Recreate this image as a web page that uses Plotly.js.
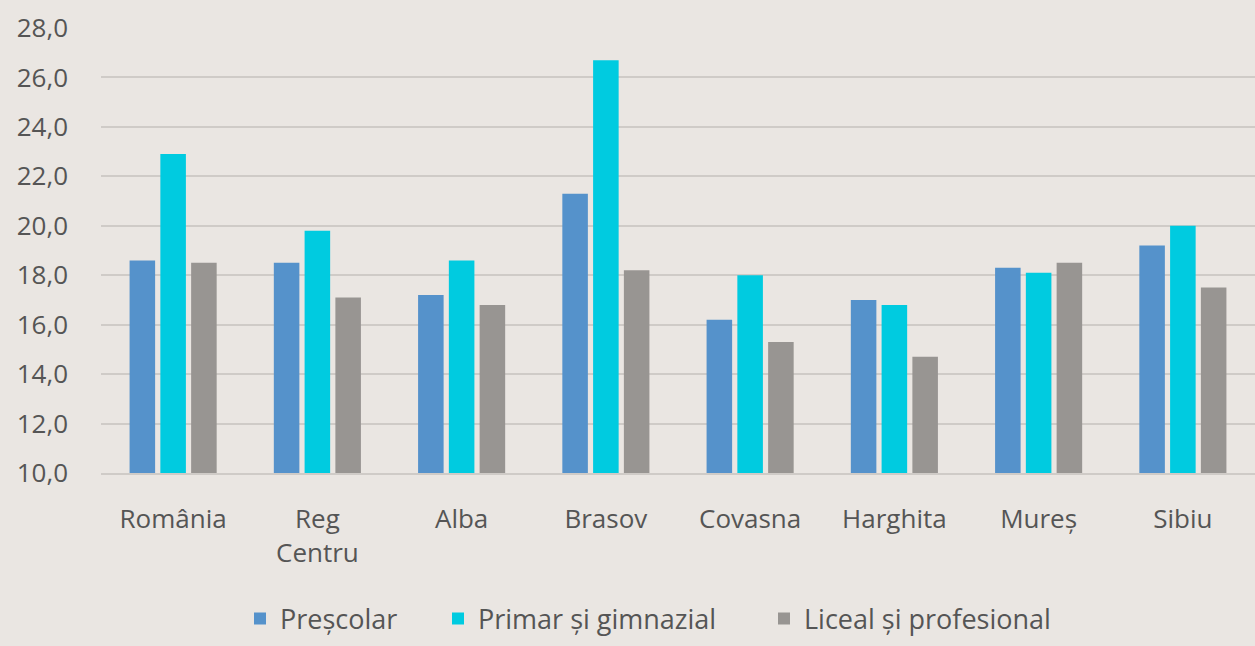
<!DOCTYPE html>
<html><head><meta charset="utf-8">
<script src="https://cdn.plot.ly/plotly-3.0.1.min.js"></script>
<style>html,body{margin:0;padding:0;background:#EAE6E2;}#chart{width:1255px;height:646px;}</style>
</head><body><div id="chart"></div>
<script>
const categories = ["România", "Reg<br>Centru", "Alba", "Brasov", "Covasna", "Harghita", "Mureș", "Sibiu"];
const prescolar = [18.6, 18.5, 17.2, 21.3, 16.2, 17.0, 18.3, 19.2];
const primarGimnazial = [22.9, 19.8, 18.6, 26.7, 18.0, 16.8, 18.1, 20.0];
const licealProfesional = [18.5, 17.1, 16.8, 18.2, 15.3, 14.7, 18.5, 17.5];
const seriesNames = ["Preșcolar", "Primar și gimnazial", "Liceal și profesional"];
const yTicks = [10, 12, 14, 16, 18, 20, 22, 24, 26, 28];

const colors = ["#5592CB", "#00CBE0", "#989592"];
const legendIds = ["legend", "legend2", "legend3"];
const data = [prescolar, primarGimnazial, licealProfesional].map((v, i) => ({
  type: "bar", x: categories, y: v, name: seriesNames[i],
  marker: {color: colors[i], line: {width: 0}},
  legend: legendIds[i],
  hoverinfo: "none"
}));

const font = "Open Sans, DejaVu Sans, sans-serif";
const legendX = [240, 438, 764];
const layout = {
  width: 1255, height: 646,
  paper_bgcolor: "#EAE6E2", plot_bgcolor: "#EAE6E2",
  margin: {l: 101, r: 0, t: 28, b: 173},
  barmode: "group", bargap: 0.36, bargroupgap: 0.17,
  font: {family: font, size: 26, color: "#555555"},
  xaxis: {
    tickfont: {family: font, size: 26, color: "#555555"},
    showgrid: false, showline: true, linecolor: "#CFCBC7", linewidth: 2,
    ticks: "", ticklabelstandoff: 22, fixedrange: true, automargin: false
  },
  yaxis: {
    range: [10, 28], tickvals: yTicks, tickformat: ".1f",
    tickfont: {family: font, size: 26, color: "#555555"},
    showgrid: true, gridcolor: "#CFCBC7", gridwidth: 2,
    zeroline: false, showline: false, ticks: "", ticklabelstandoff: 32, fixedrange: true, automargin: false
  },
  separators: ",.",
  showlegend: true
};
legendIds.forEach((id, i) => {
  layout[id] = {
    orientation: "h", xref: "container", yref: "container",
    x: legendX[i] / 1255, xanchor: "left", y: 0.042, yanchor: "middle",
    font: {family: font, size: 27, color: "#555555"},
    itemwidth: 30, bgcolor: "rgba(0,0,0,0)"
  };
});
Plotly.newPlot("chart", data, layout, {displayModeBar: false, staticPlot: true});
</script>
</body></html>
